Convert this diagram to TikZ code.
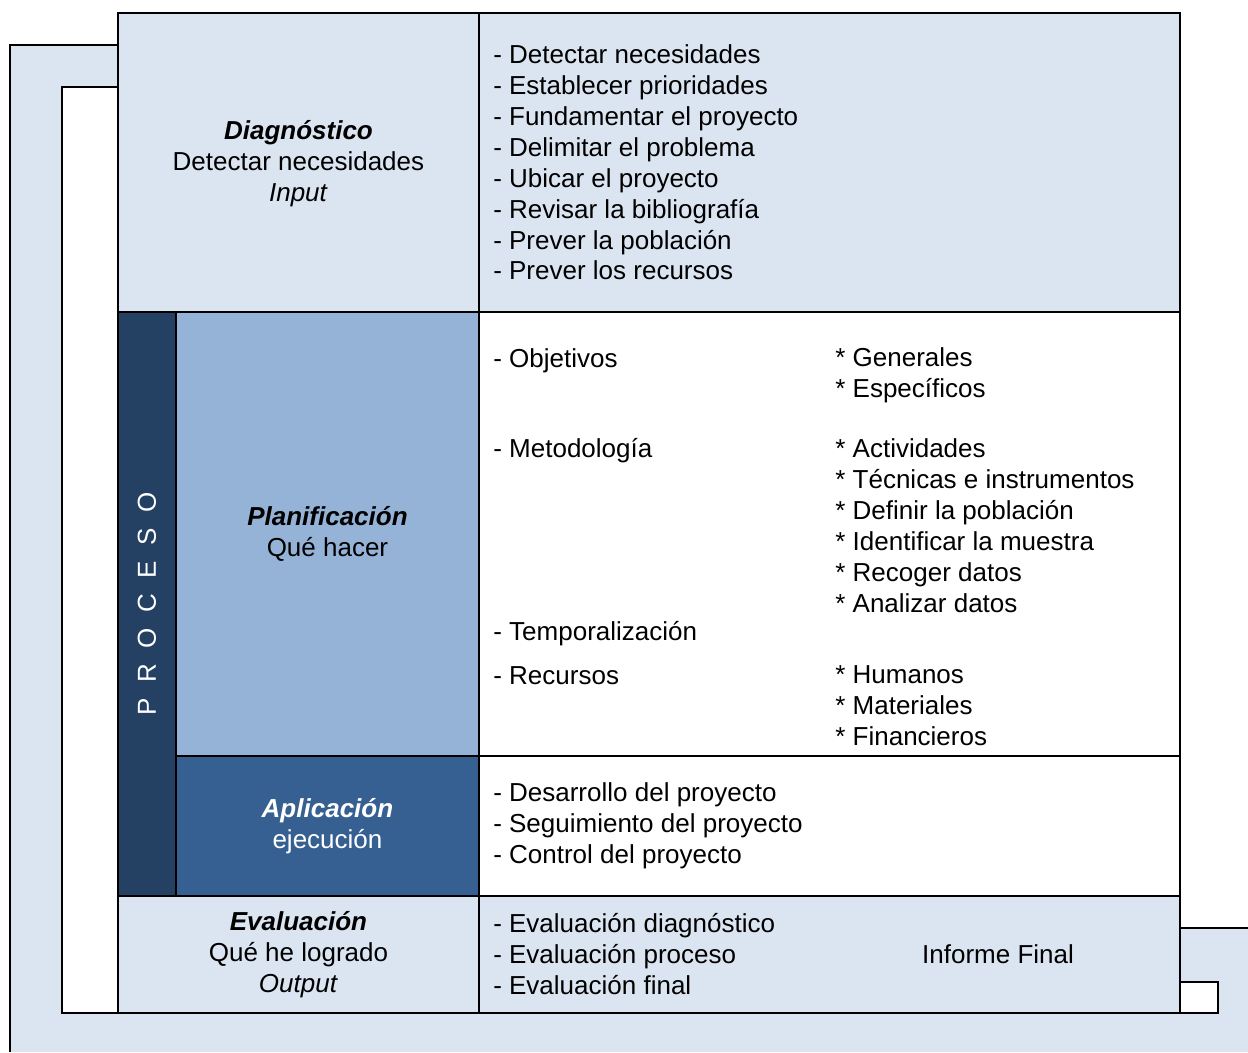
\documentclass[tikz,border=0pt]{standalone}
\usepackage{fontspec}
\setmainfont{Liberation Sans}
\usetikzlibrary{positioning}
\definecolor{paleblue}{HTML}{DBE5F1}
\definecolor{midblue}{HTML}{95B3D7}
\definecolor{deepblue}{HTML}{366092}
\definecolor{navyblue}{HTML}{244062}
\tikzset{
  cell/.style={draw, line width=1.2pt, inner sep=0pt, outer sep=0pt},
  item/.style={anchor=west, align=left, inner sep=0pt, font=\fontsize{14.8}{17.6}\selectfont},
  heading/.style={align=center, inner sep=0pt, font=\fontsize{14.8}{17.6}\selectfont}
}
\begin{document}
\begin{tikzpicture}[x=0.02cm, y=-0.02cm]
  \useasboundingbox (0,0) rectangle (1248,1052);
  % frame behind the table
  \fill[paleblue] (10,1052) -- (10,45) -- (118,45) -- (118,13) -- (1180,13)
    -- (1180,928) -- (1248,928) -- (1248,1052) -- cycle;
  \draw[line width=1.2pt] (10,1052) -- (10,45) -- (118,45) -- (118,13)
    -- (1180,13) -- (1180,928) -- (1248,928);
  \node[cell, fill=white, minimum width=1.12cm, minimum height=18.52cm, anchor=north west] (gap) at (62,87) {};

  % cells
  \node[cell, fill=paleblue, minimum width=7.22cm, minimum height=5.98cm, anchor=north west] (diag) at (118,13) {};
  \node[cell, fill=paleblue, minimum width=14.02cm, minimum height=5.98cm, right=0pt of diag] (diaglist) {};
  \node[cell, fill=navyblue, minimum width=1.16cm, minimum height=11.68cm, below right=0pt and 0pt of diag.south west] (proc) {};
  \node[cell, fill=midblue, minimum width=6.06cm, minimum height=8.88cm, below right=0pt and 0pt of proc.north east] (plan) {};
  \node[cell, fill=white, minimum width=14.02cm, minimum height=8.88cm, right=0pt of plan] (planlist) {};
  \node[cell, fill=deepblue, minimum width=6.06cm, minimum height=2.8cm, below=0pt of plan] (apl) {};
  \node[cell, fill=white, minimum width=14.02cm, minimum height=2.8cm, right=0pt of apl] (apllist) {};
  \node[cell, fill=paleblue, minimum width=7.22cm, minimum height=2.34cm, below right=0pt and 0pt of proc.south west] (eval) {};
  \node[cell, fill=paleblue, minimum width=14.02cm, minimum height=2.34cm, right=0pt of eval] (evallist) {};
  \node[cell, fill=white, minimum width=0.76cm, minimum height=0.62cm, above right=0pt and 0pt of evallist.south east] (corner) {};

  % left column texts
  \node[heading, yshift=-0.02cm] (diagtxt) at (diag) {\textbf{\textit{Diagnóstico}}\\Detectar necesidades\\\textit{Input}};
  \node[heading, rotate=90, text=white] (proctxt) at (proc) {P\hspace{.6em}R\hspace{.6em}O\hspace{.6em}C\hspace{.6em}E\hspace{.6em}S\hspace{.6em}O};
  \node[heading] (plantxt) at (plan) {\textbf{\textit{Planificación}}\\Qué hacer};
  \node[heading, text=white] (apltxt) at (apl) {\textbf{\textit{Aplicación}}\\ejecución};
  \node[heading] (evaltxt) at (eval) {\textbf{\textit{Evaluación}}\\Qué he logrado\\\textit{Output}};

  % right column texts
  \node[item, right=0.28cm of diaglist.west] (diagitems) {- Detectar necesidades\\- Establecer prioridades\\- Fundamentar el proyecto\\- Delimitar el problema\\- Ubicar el proyecto\\- Revisar la bibliografía\\- Prever la población\\- Prever los recursos};
  \node[item] (obj) at (493,361) {- Objetivos};
  \node[item] (met) at (493,451) {- Metodología};
  \node[item] (temp) at (493,634) {- Temporalización};
  \node[item] (rec) at (493,676) {- Recursos};
  \node[item] (objsub) at (835,375) {* Generales\\* Específicos};
  \node[item] (metsub) at (835,526) {* Actividades\\* Técnicas e instrumentos\\* Definir la población\\* Identificar la muestra\\* Recoger datos\\* Analizar datos};
  \node[item] (recsub) at (835,706) {* Humanos\\* Materiales\\* Financieros};
  \node[item, right=0.28cm of apllist.west] (aplitems) {- Desarrollo del proyecto\\- Seguimiento del proyecto\\- Control del proyecto};
  \node[item, right=0.28cm of evallist.west] (evalitems) {- Evaluación diagnóstico\\- Evaluación proceso\\- Evaluación final};
  \node[item, right=8.86cm of evallist.west] (informe) {Informe Final};
\end{tikzpicture}
\end{document}
